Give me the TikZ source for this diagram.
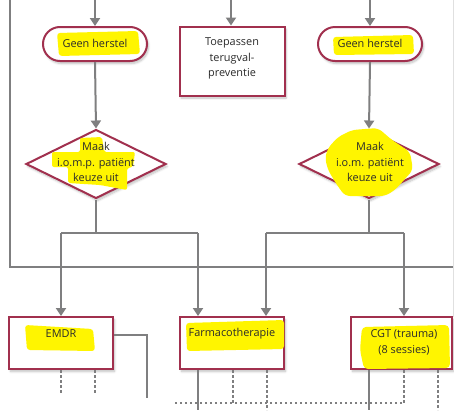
\documentclass[tikz,border=0pt]{standalone}
\usepackage{fontspec}
\setmainfont{Open Sans}
\usetikzlibrary{arrows.meta,shapes.geometric,shadows.blur}

\definecolor{boxred}{HTML}{A1304E}
\definecolor{flowgray}{HTML}{7F7F80}
\definecolor{marker}{HTML}{FFF500}
\definecolor{inkgray}{HTML}{2B2B2B}

\tikzset{
  flow/.style={draw=flowgray, line width=2pt},
  arr/.style={flow, -{Triangle[width=10pt,length=8pt]}},
  dots/.style={draw=flowgray, line width=1.6pt, dash pattern=on 2.5pt off 2.5pt},
  shade/.style={blur shadow={shadow xshift=1.5pt, shadow yshift=-2.5pt, shadow opacity=25, shadow blur steps=6}},
  pill/.style={draw=boxred, line width=2pt, fill=white, rounded corners=17pt,
    minimum width=104pt, minimum height=34pt, inner sep=0pt, shade},
  rbox/.style={draw=boxred, line width=2pt, fill=white, inner sep=0pt, shade},
  dmnd/.style={draw=boxred, line width=2pt, fill=white, diamond, aspect=2.03,
    minimum width=140pt, minimum height=69pt, inner sep=0pt, shade},
  txt/.style={text=inkgray, font=\fontsize{10.9}{15.3}\selectfont, align=center, inner sep=0pt},
  hl/.style={fill=marker, draw=none},
}

\begin{document}
\begin{tikzpicture}[x=1pt,y=-1pt]
\useasboundingbox (0,0) rectangle (454,410);

% frame lines of the surrounding chart
\draw[flow] (10,0) -- (10,267) -- (454,267);
\draw[draw=black!12, line width=0.8pt] (453,0) -- (453,317);

% shapes
\node[pill] (g1) at (95,44) {};
\node[pill] (g2) at (370,44) {};
\node[rbox, minimum width=105pt, minimum height=69pt] (tp) at (232,61) {};
\node[dmnd] (d1) at (96,164) {};
\node[dmnd] (d2) at (369,164) {};
\node[rbox, minimum width=104pt, minimum height=52pt] (emdr) at (61,343) {};
\node[rbox, minimum width=104pt, minimum height=52pt] (farm) at (232,343) {};
\node[rbox, minimum width=101pt, minimum height=52pt] (cgt) at (401.5,343) {};

% incoming arrows from above
\coordinate (t1) at (95,0);
\coordinate (t2) at (231,0);
\coordinate (t3) at (370,0);
\draw[arr] (t1) -- (g1.north);
\draw[arr] (t2) -- (tp.north -| t2);
\draw[arr] (t3) -- (g2.north);

% pill to diamond
\draw[arr] (g1.south) -- (d1.north);
\draw[arr] (g2.south) -- (d2.north);

% branches below the left diamond
\coordinate (s1) at (96,233);
\coordinate (e1) at (61,233);
\coordinate (f1) at (198,233);
\draw[flow] (d1.south) -- (s1);
\draw[flow] (e1) -- (f1);
\draw[arr] (e1) -- (emdr.north -| e1);
\draw[arr] (f1) -- (farm.north -| f1);

% branches below the right diamond
\coordinate (s2) at (369,233);
\coordinate (f2) at (266,233);
\coordinate (c2) at (404,233);
\draw[flow] (d2.south) -- (s2);
\draw[flow] (f2) -- (c2);
\draw[arr] (f2) -- (farm.north -| f2);
\draw[arr] (c2) -- (cgt.north -| c2);

% marker highlights
\fill[hl, rounded corners=3pt] (57,33) -- (138,31) -- (140,54) -- (59,56) -- cycle;
\fill[hl, rounded corners=3pt] (333,37) -- (413,35) -- (414,54) -- (334,55) -- cycle;
\fill[hl, rounded corners=2pt] (80,138) -- (102,137) -- (104,152) -- (135,152) -- (133,167)
  -- (127,168) -- (127,190) -- (100,185) -- (68,183) -- (68,167) -- (52,167) -- (52,152)
  -- (80,152) -- cycle;
\fill[hl, rounded corners=5pt] (338,137) -- (352,130) -- (378,128) -- (392,140) -- (410,152)
  -- (413,170) -- (395,190) -- (385,196) -- (345,196) -- (337,185) -- (328,170)
  -- (325,158) -- (328,148) -- cycle;
\fill[hl, rounded corners=3pt] (25,325) -- (93,329) -- (95,351) -- (27,350) -- cycle;
\fill[hl, rounded corners=3pt] (186,323) -- (284,320) -- (284,349) -- (187,351) -- cycle;
\fill[hl, rounded corners=4pt] (362,327) -- (449,325) -- (450,368) -- (364,369) -- (360,350) -- cycle;

% texts
\node[txt] (g1t) at (95,43) {Geen herstel};
\node[txt] (g2t) at (370,43) {Geen herstel};
\node[txt] (tpt) at (232,58.5) {Toepassen\\terugval-\\preventie};
\node[txt] (d1t) at (96,162) {Maak\\i.o.m.p. patiënt\\keuze uit};
\node[txt] (d2t) at (370,162) {Maak\\i.o.m. patiënt\\keuze uit};
\node[txt] (emdrt) at (61,334) {EMDR};
\node[txt] (farmt) at (232,334) {Farmacotherapie};
\node[txt] (cgtt) at (404,342.5) {CGT (trauma)\\(8 sessies)};

% outgoing lines below the treatment boxes
\coordinate (ea) at (61,393);
\coordinate (eb) at (95,393);
\coordinate (ec) at (147,335);
\coordinate (ed) at (147,398);
\draw[dots] (emdr.south -| ea) -- (ea);
\draw[dots] (emdr.south -| eb) -- (eb);
\draw[flow] (emdr.east |- ec) -- (ec) -- (ed);

\coordinate (fa) at (198,410);
\coordinate (fb) at (233,403);
\coordinate (fc) at (267,410);
\draw[flow] (farm.south -| fa) -- (fa);
\draw[dots] (farm.south -| fb) -- (fb);
\draw[dots] (farm.south -| fc) -- (fc);

\coordinate (ca) at (369,410);
\coordinate (cb) at (404,403);
\coordinate (cc) at (438,410);
\coordinate (hl0) at (173,403);
\draw[flow] (cgt.south -| ca) -- (ca);
\draw[dots] (cgt.south -| cb) -- (cb) -- (hl0);
\draw[dots] (cgt.south -| cc) -- (cc);
\end{tikzpicture}
\end{document}
